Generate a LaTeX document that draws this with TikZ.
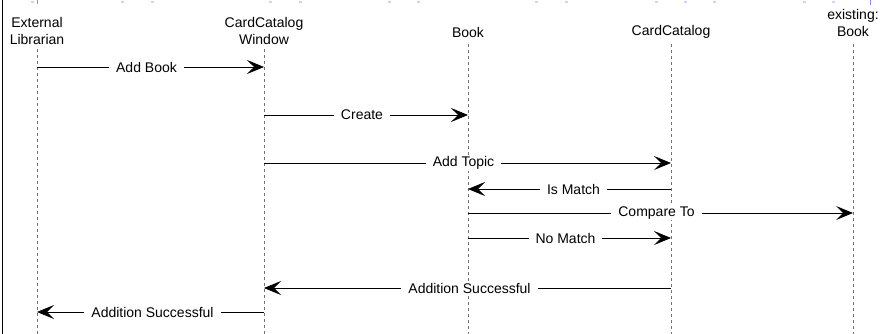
\documentclass[tikz,border=0pt]{standalone}
\usepackage{fontspec}
\setmainfont{Liberation Sans}
\usetikzlibrary{arrows.meta}
\begin{document}
\begin{tikzpicture}[x=1pt,y=-1pt,
  every node/.style={font=\fontsize{14}{17}\selectfont, inner sep=0pt},
  actor/.style={align=center},
  lifeline/.style={draw=black!55, line width=1pt, dash pattern=on 3pt off 3pt},
  msg/.style={draw=black, line width=0.9pt,
    -{Stealth[length=17pt,width=14pt,inset=7pt,line width=0.8pt]}},
  msglabel/.style={fill=white, inner xsep=7pt, inner ysep=1pt},
  gridtick/.style={fill=blue!18, draw=none}]
\useasboundingbox (0,0) rectangle (882,334);
\fill[white] (0,0) rectangle (882,334);

% frame edge and faint grid ticks along the top
\draw[black, line width=1.3pt] (2.5,0) -- (2.5,334);
\foreach \gx in {32,122,152,270,300,389,418,536,566,656,685,714,804,833}
  \fill[gridtick] (\gx-1.5,1) rectangle (\gx+1.5,3);
\fill[blue!45] (36.5,0) rectangle (37.5,4);
\fill[blue!45] (869.5,0) rectangle (870.5,5);

% participants
\node[actor] (lib)  at (37,31)  {External\\Librarian};
\node[actor] (win)  at (264,31) {CardCatalog\\Window};
\node[actor] (book) at (468,32) {Book};
\node[actor] (cat)  at (671,32) {CardCatalog};
\node[actor] (ex)   at (853,23) {existing:\\Book};

% lifelines
\coordinate (libT)  at (37,49);   \coordinate (libB)  at (37,334);
\coordinate (winT)  at (264,49);  \coordinate (winB)  at (264,334);
\coordinate (bookT) at (468,44);  \coordinate (bookB) at (468,334);
\coordinate (catT)  at (671,44);  \coordinate (catB)  at (671,334);
\coordinate (exT)   at (853,44);  \coordinate (exB)   at (853,334);
\foreach \p in {lib,win,book,cat,ex}
  \draw[lifeline] (\p T) -- (\p B);

% message anchors on the lifelines
\foreach \p/\px in {lib/37,win/264,book/468,cat/671,ex/853}
  \foreach \m/\my in {a/67,b/115,c/163,d/189,e/213,f/238,g/288,h/312}
    \coordinate (\p\m) at (\px,\my);

% messages
\draw[msg] (liba) -- node[msglabel, xshift=-4pt] {Add Book} (wina);
\draw[msg] (winb) -- node[msglabel, xshift=-4pt] {Create} (bookb);
\draw[msg] (winc) -- node[msglabel, xshift=-4pt] {Add Topic} (catc);
\draw[msg] (catd) -- node[msglabel, xshift=4pt] {Is Match} (bookd);
\draw[msg] (booke) -- node[msglabel, xshift=-4pt] {Compare To} (exe);
\draw[msg] (bookf) -- node[msglabel, xshift=-4pt] {No Match} (catf);
\draw[msg] (catg) -- node[msglabel, xshift=2pt] {Addition Successful} (wing);
\draw[msg] (winh) -- node[msglabel, xshift=2pt] {Addition Successful} (libh);
\end{tikzpicture}
\end{document}
